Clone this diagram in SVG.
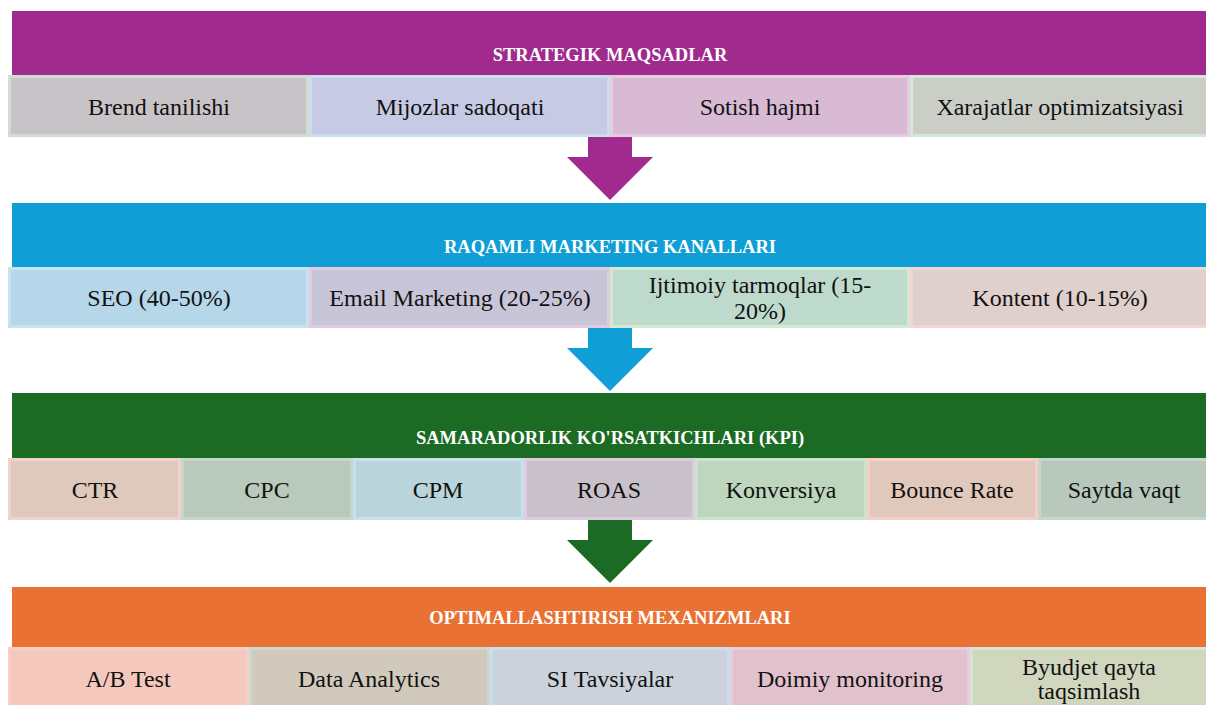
<svg xmlns="http://www.w3.org/2000/svg" width="1206" height="705" viewBox="0 0 1206 705">
<style>
.band-title{font-family:'Liberation Serif','Tinos','Times New Roman','DejaVu Serif',serif;font-weight:bold;font-size:18.5px;fill:#ffffff;text-anchor:middle}
.cell-text{font-family:'Liberation Serif','Tinos','Times New Roman','DejaVu Serif',serif;font-size:24px;fill:#111111;text-anchor:middle}
.cell{stroke-width:3}
</style>
<rect x="0" y="0" width="1206" height="705" fill="#ffffff"/>

<!-- Band 1 -->
<g id="band-strategik">
  <rect x="12" y="11" width="1194" height="64" fill="#A12A8F"/>
  <text class="band-title" x="610" y="61">STRATEGIK MAQSADLAR</text>
</g>
<g id="cell-brend"><rect class="cell" x="9.5" y="76.5" width="298" height="59" fill="#C8C3C6" stroke="#D3DCD3"/><text class="cell-text" x="159" y="115">Brend tanilishi</text></g>
<g id="cell-mijozlar"><rect class="cell" x="310.5" y="76.5" width="298" height="59" fill="#C6CAE4" stroke="#CADDEE"/><text class="cell-text" x="460" y="115">Mijozlar sadoqati</text></g>
<g id="cell-sotish"><rect class="cell" x="611.5" y="76.5" width="297" height="59" fill="#D9BAD4" stroke="#E5CCE0"/><text class="cell-text" x="760" y="115">Sotish hajmi</text></g>
<g id="cell-xarajatlar"><rect class="cell" x="911.5" y="76.5" width="296" height="59" fill="#CACEC7" stroke="#D5E8D5"/><text class="cell-text" x="1060" y="115">Xarajatlar optimizatsiyasi</text></g>

<!-- Band 2 -->
<g id="band-raqamli">
  <rect x="12" y="203" width="1194" height="64" fill="#109ED6"/>
  <text class="band-title" x="610" y="253">RAQAMLI MARKETING KANALLARI</text>
</g>
<g id="cell-seo"><rect class="cell" x="9.5" y="268.5" width="298" height="58" fill="#B6D7EA" stroke="#C9E2F2"/><text class="cell-text" x="159" y="306">SEO (40-50%)</text></g>
<g id="cell-email"><rect class="cell" x="310.5" y="268.5" width="298" height="58" fill="#C8C5D8" stroke="#E0CCE0"/><text class="cell-text" x="460" y="306">Email Marketing (20-25%)</text></g>
<g id="cell-ijtimoiy"><rect class="cell" x="611.5" y="268.5" width="297" height="58" fill="#BEDACD" stroke="#D5E8D0"/><text class="cell-text" x="760" y="293">Ijtimoiy tarmoqlar (15-</text><text class="cell-text" x="760" y="319">20%)</text></g>
<g id="cell-kontent"><rect class="cell" x="911.5" y="268.5" width="296" height="58" fill="#DFCFCD" stroke="#F5D5D0"/><text class="cell-text" x="1060" y="306">Kontent (10-15%)</text></g>

<!-- Band 3 -->
<g id="band-kpi">
  <rect x="12" y="393" width="1194" height="65" fill="#1B6B24"/>
  <text class="band-title" x="610" y="444">SAMARADORLIK KO'RSATKICHLARI (KPI)</text>
</g>
<g id="cell-ctr"><rect class="cell" x="9.5" y="459.5" width="170" height="59" fill="#DFC9BC" stroke="#F2D2CC"/><text class="cell-text" x="95" y="498">CTR</text></g>
<g id="cell-cpc"><rect class="cell" x="182.5" y="459.5" width="169" height="59" fill="#B9CABD" stroke="#C6D6CA"/><text class="cell-text" x="267" y="498">CPC</text></g>
<g id="cell-cpm"><rect class="cell" x="354.5" y="459.5" width="168" height="59" fill="#B9D4DB" stroke="#C8E0F0"/><text class="cell-text" x="438" y="498">CPM</text></g>
<g id="cell-roas"><rect class="cell" x="525.5" y="459.5" width="168" height="59" fill="#C9C1CA" stroke="#E0CCE0"/><text class="cell-text" x="609" y="498">ROAS</text></g>
<g id="cell-konversiya"><rect class="cell" x="696.5" y="459.5" width="169" height="59" fill="#BDD6BD" stroke="#CCE3CC"/><text class="cell-text" x="781" y="498">Konversiya</text></g>
<g id="cell-bounce"><rect class="cell" x="868.5" y="459.5" width="168" height="59" fill="#E0C8BC" stroke="#F6D0C8"/><text class="cell-text" x="952" y="498">Bounce Rate</text></g>
<g id="cell-saytda"><rect class="cell" x="1039.5" y="459.5" width="168" height="59" fill="#B9C8BC" stroke="#C6D6CA"/><text class="cell-text" x="1124" y="498">Saytda vaqt</text></g>

<!-- Band 4 -->
<g id="band-optimallashtirish">
  <rect x="12" y="587" width="1194" height="61" fill="#E97133"/>
  <text class="band-title" x="610" y="624">OPTIMALLASHTIRISH MEXANIZMLARI</text>
</g>
<g id="cell-ab"><rect class="cell" x="9.5" y="648.5" width="238" height="60" fill="#F4C8BC" stroke="#F6D0C8"/><text class="cell-text" x="128" y="687">A/B Test</text></g>
<g id="cell-data"><rect class="cell" x="250.5" y="648.5" width="238" height="60" fill="#D0C9BC" stroke="#CCD8D0"/><text class="cell-text" x="369" y="687">Data Analytics</text></g>
<g id="cell-si"><rect class="cell" x="491.5" y="648.5" width="237" height="60" fill="#CCD2DC" stroke="#C8DDEE"/><text class="cell-text" x="610" y="687">SI Tavsiyalar</text></g>
<g id="cell-doimiy"><rect class="cell" x="731.5" y="648.5" width="237" height="60" fill="#E0C1CC" stroke="#E8CDE0"/><text class="cell-text" x="850" y="687">Doimiy monitoring</text></g>
<g id="cell-byudjet"><rect class="cell" x="971.5" y="648.5" width="236" height="60" fill="#D1D7BF" stroke="#D5E5D5"/><text class="cell-text" x="1089" y="675">Byudjet qayta</text><text class="cell-text" x="1089" y="699">taqsimlash</text></g>

<!-- Connectors -->
<g id="connectors">
  <polygon points="588,137 632,137 632,157 653,157 610,200 567,157 588,157" fill="#A12A8F"/>
  <polygon points="588,328 632,328 632,348 653,348 610,391 567,348 588,348" fill="#109ED6"/>
  <polygon points="588,520 632,520 632,540 653,540 610,583 567,540 588,540" fill="#1B6B24"/>
</g>
</svg>
